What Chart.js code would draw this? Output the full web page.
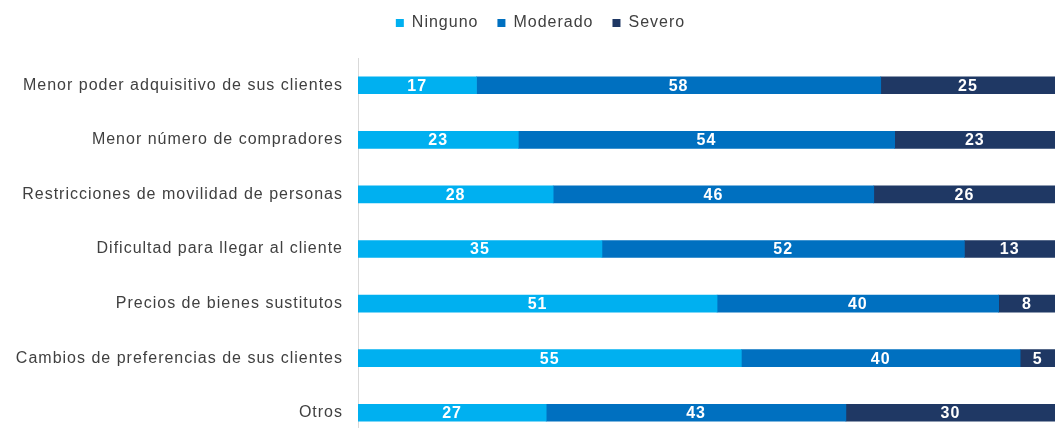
<!DOCTYPE html>
<html>
<head>
<meta charset="utf-8">
<script src="https://cdn.jsdelivr.net/npm/chart.js@4.4.0/dist/chart.umd.min.js"></script>
<style>
  html, body { margin: 0; padding: 0; background: #fff; overflow: hidden; }
  #wrap { width: 1055px; height: 440px; }
</style>
</head>
<body>
<div id="wrap"><canvas id="myChart" width="1055" height="440"></canvas></div>
<script>
// Categories and values (percent of firms)
const categories = [
  'Menor poder adquisitivo de sus clientes',
  'Menor número de compradores',
  'Restricciones de movilidad de personas',
  'Dificultad para llegar al cliente',
  'Precios de bienes sustitutos',
  'Cambios de preferencias de sus clientes',
  'Otros'
];
const ninguno = [17, 23, 28, 35, 51, 55, 27];
const moderado = [58, 54, 46, 52, 40, 40, 43];
const severo = [25, 23, 26, 13, 8, 5, 30];

// 100% stacked: each row is scaled to its own total, labels keep the raw value
const totals = categories.map((_, i) => ninguno[i] + moderado[i] + severo[i]);
const share = (arr) => arr.map((v, i) => v / totals[i] * 100);
const rawValues = [ninguno, moderado, severo];

const FONT = '"Liberation Sans", Arial, sans-serif';

// wider text spacing, the original text is a bit stretched
const spacing = {
  id: 'spacing',
  beforeUpdate(chart) { chart.ctx.letterSpacing = '1px'; },
  beforeDraw(chart) { chart.ctx.letterSpacing = '1px'; }
};

// fixed legend block height, legend nudged a bit right and up
const legendTweak = {
  id: 'legendTweak',
  beforeInit(chart) {
    const lg = chart.legend;
    const fit = lg.fit;
    lg.fit = function () {
      fit.bind(lg)();
      this.height = 58;
    };
    const draw = lg.draw;
    lg.draw = function () {
      const c = this.ctx;
      c.save();
      c.translate(13, -4);
      draw.bind(lg)();
      c.restore();
    };
  }
};

// Draw the value inside each bar segment
const barLabels = {
  id: 'barLabels',
  afterDatasetsDraw(chart) {
    const ctx = chart.ctx;
    ctx.save();
    ctx.font = 'bold 16px ' + FONT;
    ctx.fillStyle = '#ffffff';
    ctx.textAlign = 'center';
    ctx.textBaseline = 'middle';
    chart.data.datasets.forEach((ds, i) => {
      chart.getDatasetMeta(i).data.forEach((bar, j) => {
        const x = (bar.x + bar.base) / 2;
        ctx.fillText(rawValues[i][j], x, bar.y + 1);
      });
    });
    ctx.restore();
  }
};

var context = document.getElementById('myChart').getContext('2d');
var myChart = new Chart(context, {
  type: 'bar',
  data: {
    labels: categories,
    datasets: [
      { label: 'Ninguno', data: share(ninguno), backgroundColor: '#00B0F0' },
      { label: 'Moderado', data: share(moderado), backgroundColor: '#0070C0' },
      { label: 'Severo', data: share(severo), backgroundColor: '#1F3864' }
    ]
  },
  options: {
    indexAxis: 'y',
    responsive: false,
    animation: false,
    layout: { padding: 0 },
    datasets: { bar: { barThickness: 17, categoryPercentage: 1 } },
    plugins: {
      tooltip: { enabled: false },
      legend: {
        position: 'top',
        labels: {
          boxWidth: 8,
          boxHeight: 8,
          padding: 19,
          color: '#404040',
          font: { family: FONT, size: 16 }
        }
      }
    },
    scales: {
      x: {
        stacked: true,
        min: 0,
        max: 100,
        display: false
      },
      y: {
        stacked: true,
        afterFit(scale) {
          scale.width = 358;
          scale.paddingTop = 0;
          scale.paddingBottom = 0;
        },
        grid: { display: false, drawTicks: false },
        border: { display: true, color: '#d9d9d9', width: 1 },
        ticks: {
          padding: 15,
          color: '#404040',
          font: { family: FONT, size: 16 }
        }
      }
    }
  },
  plugins: [spacing, legendTweak, barLabels]
});
</script>
</body>
</html>
